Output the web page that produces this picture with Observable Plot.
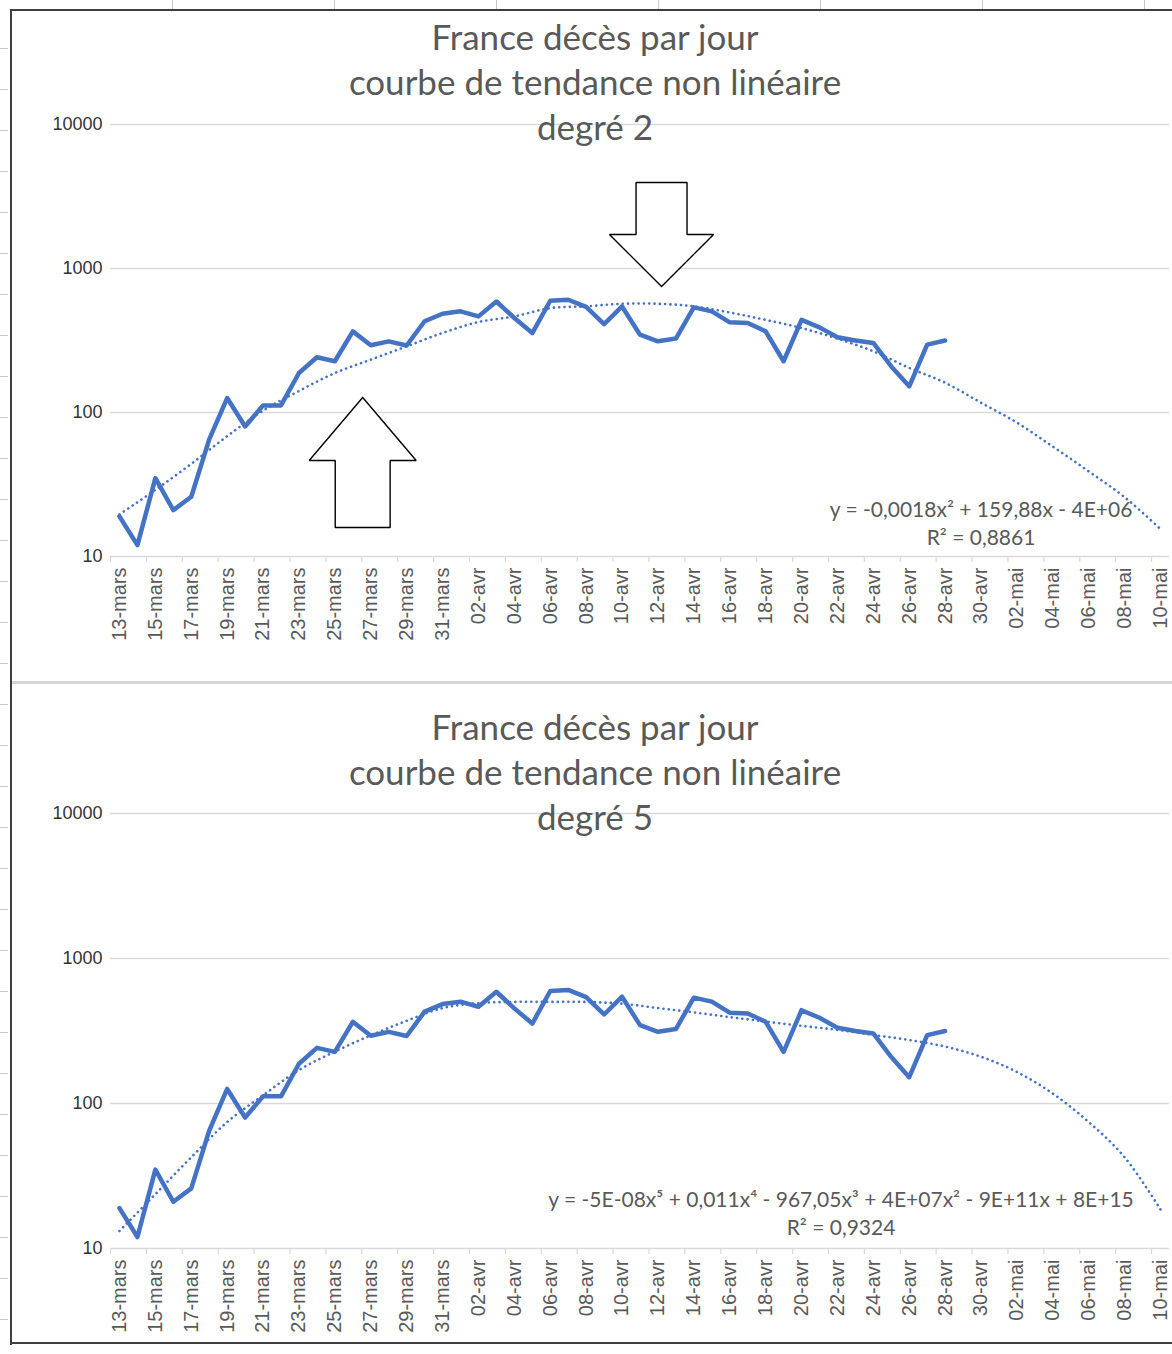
<!DOCTYPE html>
<html>
<head>
<meta charset="utf-8">
<script src="https://cdn.jsdelivr.net/npm/d3@7"></script>
<script src="https://cdn.jsdelivr.net/npm/@observablehq/plot@0.6"></script>
<style>
  html, body { margin: 0; padding: 0; background: #fff; }
  #page { position: relative; width: 1172px; height: 1354px; overflow: hidden; background: #fff; }
  .panel { position: absolute; left: 0; width: 1172px; }
  .title { position: absolute; left: 0; width: 1190px; text-align: center; font-family: Lato, "Open Sans", sans-serif;
           color: #595959; font-size: 35px; line-height: 45px; pointer-events: none; }
  .frame { position: absolute; background: #3f3f3f; }
  .sep { position: absolute; background: #d4d4d4; }
  .rowticks { position: absolute; left: 0; top: 8px; width: 8px; height: 1346px;
              background: repeating-linear-gradient(to bottom, transparent 0px, transparent 40px, #c8c8c8 40px, #c8c8c8 41px); }
  .colticks { position: absolute; left: 11px; top: 0; width: 1161px; height: 9px;
              background: repeating-linear-gradient(to right, transparent 0px, transparent 161px, #c8c8c8 161px, #c8c8c8 162px); }
</style>
</head>
<body>
<div id="page">
  <div class="rowticks"></div>
  <div class="colticks"></div>
  <div class="panel" id="p1" style="top:0px;height:683px;"></div>
  <div class="panel" id="p2" style="top:683px;height:660px;"></div>
  <div class="title" style="top:14px;">France décès par jour<br>courbe de tendance non linéaire<br>degré 2</div>
  <div class="title" style="top:704px;">France décès par jour<br>courbe de tendance non linéaire<br>degré 5</div>
  <div class="frame" style="left:10px;top:9px;width:1162px;height:2px;"></div>
  <div class="frame" style="left:10px;top:9px;width:2px;height:1336px;"></div>
  <div class="frame" style="left:10px;top:1342px;width:1162px;height:2px;"></div>
  <div class="sep" style="left:12px;top:681px;width:1160px;height:3px;"></div>
</div>
<script>
// ---- data ----
const tickLabels = ["13-mars","15-mars","17-mars","19-mars","21-mars","23-mars","25-mars","27-mars","29-mars","31-mars",
  "02-avr","04-avr","06-avr","08-avr","10-avr","12-avr","14-avr","16-avr","18-avr","20-avr","22-avr","24-avr","26-avr","28-avr","30-avr",
  "02-mai","04-mai","06-mai","08-mai","10-mai"];

// daily deaths, one value per day from 13-mars to 28-avr
const deaths = [19,12,35,21,26,65,126,80,112,112,188,242,227,366,293,312,292,430,485,504,465,590,453,356,597,607,541,
  411,545,347,312,326,537,504,423,418,366,227,440,390,333,316,304,209,152,296,316];

// trend curves, one value per labelled date (every 2 days, 13-mars .. 10-mai)
const trendDeg2 = [19.6,29,44,68.5,103,141,188,233,288,357,425,465,531,546,569,569,546,495,440,386,326,266,204,161,117,85,58,39,25.8,15.5];
const trendDeg5 = [13.2,23.7,42.6,74.5,114,170,228,295,372,455,492,502,502,502,488,455,425,394,367,343,322,297,274,247,210,165,117,74.5,42.6,18.6];

const equations = [
  {chart: 1, eq: "y = -0,0018x² + 159,88x - 4E+06", r2: "R² = 0,8861"},
  {chart: 2, eq: "y = -5E-08x⁵ + 0,011x⁴ - 967,05x³ + 4E+07x² - 9E+11x + 8E+15", r2: "R² = 0,9324"}
];

// annotation arrows (top chart): tip date index and value
const arrowTips = [{dir: "down", day: 30.2, value: 750}, {dir: "up", day: 13.55, value: 127}];
</script>
<script>
const BLUE = "#4472c4";
const GRID = "#d9d9d9";
const labelDays = tickLabels.map((_, i) => i * 2);
const boundaries = d3.range(-0.5, 59, 2);
const deathPts = deaths.map((v, i) => ({day: i, value: v}));

function arrowPolygon(a, headHalf, shaftHalf, headDec, shaftDec) {
  const s = a.dir === "down" ? 1 : -1; // down arrow: body above the tip
  const lt = Math.log10(a.value);
  const base = Math.pow(10, lt + s * headDec);
  const end = Math.pow(10, lt + s * (headDec + shaftDec));
  const pts = [
    [a.day, a.value],
    [a.day - headHalf, base],
    [a.day - shaftHalf, base],
    [a.day - shaftHalf, end],
    [a.day + shaftHalf, end],
    [a.day + shaftHalf, base],
    [a.day + headHalf, base],
    [a.day, a.value]
  ];
  return pts.map(([d, v]) => ({day: d, value: v}));
}

function makeChart(opts) {
  const trendPts = opts.trend.map((v, i) => ({day: i * 2, value: v}));
  const marks = [
    Plot.gridY([100, 1000, 10000], {stroke: GRID, strokeOpacity: 1, strokeWidth: 1.5}),
    Plot.ruleY([10], {stroke: GRID, strokeWidth: 1.5}),
    Plot.axisX({ticks: boundaries, tickFormat: () => "", tickSize: 6, stroke: GRID, strokeWidth: 1.2, label: null}),
    Plot.axisX({ticks: labelDays, tickFormat: d => tickLabels[Math.round(d / 2)], tickRotate: -90, tickSize: 0,
                tickPadding: 11, fontSize: 20, color: "#595959", label: null}),
    Plot.axisY({ticks: [10, 100, 1000, 10000], tickFormat: d => String(d), tickSize: 0, tickPadding: 8,
                fontSize: 18, color: "#333333", label: null}),
    Plot.line(deathPts, {x: "day", y: "value", stroke: BLUE, strokeWidth: 4.5, strokeLinejoin: "round", strokeLinecap: "round"}),
    Plot.line(trendPts, {x: "day", y: "value", stroke: BLUE, strokeWidth: 2.6, strokeDasharray: "0.1 5.2",
                strokeLinecap: "round", curve: "catmull-rom"}),
    Plot.text([opts.equation.eq], {x: opts.eqDay, y: opts.eqVal, text: d => d, fontSize: 21,
                fontFamily: "Lato, 'Open Sans', sans-serif", fill: "#595959"}),
    Plot.text([opts.equation.r2], {x: opts.eqDay, y: opts.r2Val, text: d => d, fontSize: 21,
                fontFamily: "Lato, 'Open Sans', sans-serif", fill: "#595959"})
  ];
  for (const poly of opts.arrows) {
    marks.push(Plot.line(poly, {x: "day", y: "value", fill: "white", stroke: "black", strokeWidth: 1.4, strokeLinejoin: "miter"}));
  }
  return Plot.plot({
    width: 1172,
    height: opts.height,
    marginLeft: 110,
    marginRight: 3,
    marginTop: opts.marginTop,
    marginBottom: opts.marginBottom,
    x: {type: "linear", domain: [-0.5, 58.5], label: null},
    y: {type: "log", domain: [10, 10000], label: null},
    style: {fontFamily: "'Liberation Sans', Arial, sans-serif", background: "transparent", overflow: "visible"},
    marks
  });
}

const arrowsTop = [
  arrowPolygon(arrowTips[0], 2.9, 1.42, 0.361, 0.361),
  arrowPolygon(arrowTips[1], 2.98, 1.53, 0.4375, 0.465)
];

document.getElementById("p1").appendChild(makeChart({
  height: 683, marginTop: 124, marginBottom: 127, trend: trendDeg2, equation: equations[0],
  eqDay: 48, eqVal: 20.9, r2Val: 13.4, arrows: arrowsTop
}));
document.getElementById("p2").appendChild(makeChart({
  height: 660, marginTop: 130, marginBottom: 95, trend: trendDeg5, equation: equations[1],
  eqDay: 40.2, eqVal: 21.4, r2Val: 13.7, arrows: []
}));
</script>
</body>
</html>
